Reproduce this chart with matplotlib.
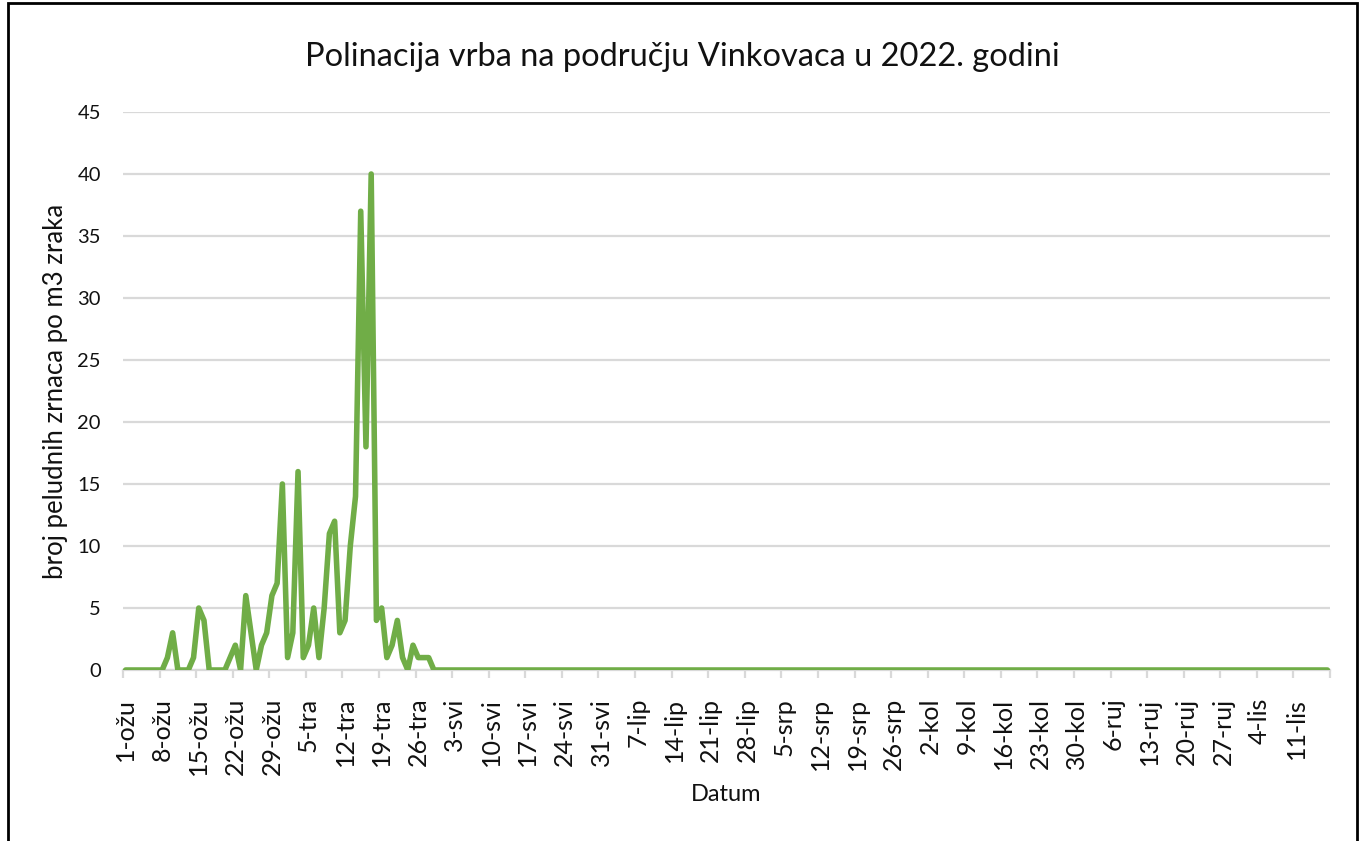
import matplotlib
matplotlib.use('Agg')
import matplotlib.pyplot as plt
import numpy as np
import pandas as pd
from matplotlib.patches import Rectangle

# daily willow pollen counts, 1 Mar 2022 onwards (first 60 days = the season)
season = [0, 0, 0, 0, 0, 0, 0, 0, 1, 3,
          0, 0, 0, 1, 5, 4, 0, 0, 0, 0,
          1, 2, 0, 6, 3, 0, 2, 3, 6, 7,
          15, 1, 3, 16, 1, 2, 5, 1, 5, 11,
          12, 3, 4, 10, 14, 37, 18, 40, 4, 5,
          1, 2, 4, 1, 0, 2, 1, 1, 1, 0]
# rest of the period (30 Apr - 17 Oct): no pollen recorded
off_season = [0, 0, 0, 0, 0, 0, 0, 0, 0, 0, 0, 0, 0, 0, 0, 0, 0, 0, 0, 0,
              0, 0, 0, 0, 0, 0, 0, 0, 0, 0, 0, 0, 0, 0, 0, 0, 0, 0, 0, 0,
              0, 0, 0, 0, 0, 0, 0, 0, 0, 0, 0, 0, 0, 0, 0, 0, 0, 0, 0, 0,
              0, 0, 0, 0, 0, 0, 0, 0, 0, 0, 0, 0, 0, 0, 0, 0, 0, 0, 0, 0,
              0, 0, 0, 0, 0, 0, 0, 0, 0, 0, 0, 0, 0, 0, 0, 0, 0, 0, 0, 0,
              0, 0, 0, 0, 0, 0, 0, 0, 0, 0, 0, 0, 0, 0, 0, 0, 0, 0, 0, 0,
              0, 0, 0, 0, 0, 0, 0, 0, 0, 0, 0, 0, 0, 0, 0, 0, 0, 0, 0, 0,
              0, 0, 0, 0, 0, 0, 0, 0, 0, 0, 0, 0, 0, 0, 0, 0, 0, 0, 0, 0,
              0, 0, 0, 0, 0, 0, 0, 0, 0, 0, 0]
MONTHS = {3: 'ožu', 4: 'tra', 5: 'svi', 6: 'lip', 7: 'srp', 8: 'kol', 9: 'ruj', 10: 'lis'}

pollen = season + off_season
dates = pd.date_range('2022-03-01', periods=len(pollen), freq='D')
labels = ['{}-{}'.format(d.day, MONTHS[d.month]) for d in dates]

plt.rcParams['font.family'] = ['Lato', 'DejaVu Sans']
GRID = '#d9d9d9'
TXT = '#111111'

fig = plt.figure(figsize=(13.65, 8.41), dpi=100)
fig.patches.append(Rectangle((8 / 1365, -0.01), 1349 / 1365, 1.0 - 3 / 841 + 0.01,
                             transform=fig.transFigure, fill=False,
                             edgecolor='black', linewidth=2))
ax = fig.add_axes([123 / 1365, 1 - 670 / 841, (1330 - 123) / 1365, (670 - 112) / 841])

x = np.arange(len(pollen))
ax.plot(x, pollen, color='#70AD47', linewidth=4, solid_joinstyle='round',
        solid_capstyle='round', zorder=3)

ax.set_xlim(-0.5, len(pollen) - 0.5)
ax.set_ylim(0, 45)
ax.set_yticks(np.arange(0, 46, 5))
ax.yaxis.grid(True, color=GRID, linewidth=1.6)
ax.set_axisbelow(True)
for s in ['top', 'right', 'left']:
    ax.spines[s].set_visible(False)
ax.spines['bottom'].set_color(GRID)
ax.spines['bottom'].set_linewidth(1.6)

shown = np.arange(0, len(pollen), 7)
ax.set_xticks(shown)
ax.set_xticklabels([labels[i] for i in shown], rotation=90, fontsize=18, color=TXT)
ax.set_xticks(np.arange(-0.5, len(pollen) + 1, 7), minor=True)
ax.tick_params(axis='x', which='major', length=0, pad=20)
ax.tick_params(axis='x', which='minor', length=6, width=1.6, color=GRID)
ax.tick_params(axis='y', length=0, labelsize=14.5, pad=16, colors=TXT)

fig.text(0.5, 1 - 66 / 841, 'Polinacija vrba na području Vinkovaca u 2022. godini',
         fontsize=23.5, color=TXT, ha='center', va='baseline')
ax.set_ylabel('broj peludnih zrnaca po m3 zraka', fontsize=18.5, color=TXT, labelpad=7)
ax.set_xlabel('Datum', fontsize=17, color=TXT, labelpad=6)

fig.savefig('out.png', dpi=100, facecolor='white')
